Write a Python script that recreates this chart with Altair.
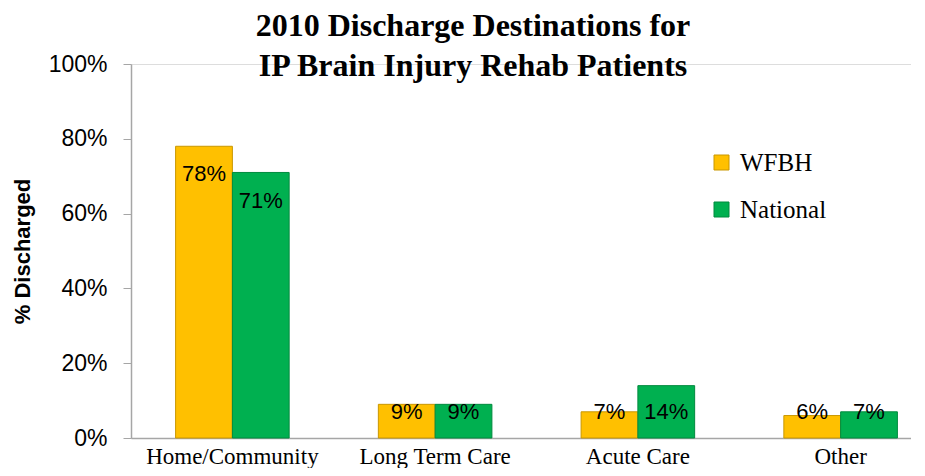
import altair as alt
import pandas as pd

categories = ["Home/Community", "Long Term Care", "Acute Care", "Other"]
series = ["WFBH", "National"]
wfbh = [78, 9, 7, 6]
national = [71, 9, 14, 7]
y_ticks = [0, 20, 40, 60, 80, 100]

rows = []
for c, w, n in zip(categories, wfbh, national):
    rows.append({"cat": c, "series": "WFBH", "v": w})
    rows.append({"cat": c, "series": "National", "v": n})
df = pd.DataFrame(rows)

colors = ["#FFC000", "#00B050"]
strokes = ["#C99700", "#008A3E"]

xscale = alt.Scale(range=[0, 811], paddingInner=0.44, paddingOuter=0.22)
x = alt.X("cat:N", sort=categories, scale=xscale,
          axis=alt.Axis(title=None, labelAngle=0, labelFont="Liberation Serif",
                        labelFontSize=23, labelColor="#000000", ticks=False,
                        labelPadding=7, labelLimit=400, domainColor="#A6A6A6",
                        domainWidth=1.5))
xo = alt.XOffset("series:N", sort=series, scale=alt.Scale(paddingInner=0, paddingOuter=0))
y = alt.Y("v:Q", scale=alt.Scale(domain=[0, 100], nice=False),
          axis=alt.Axis(title="% Discharged", values=y_ticks, labelExpr="datum.value + '%'",
                        labelFont="Liberation Sans", labelFontSize=23, labelColor="#000000",
                        tickSize=8, tickColor="#A6A6A6", domainColor="#A6A6A6", domainWidth=1.5,
                        labelPadding=16, grid=False, titleFont="Liberation Sans",
                        titleFontSize=22, titleFontWeight="bold", titleColor="#000000",
                        titlePadding=14))

bars = alt.Chart(df).mark_bar(strokeWidth=1).encode(
    x=x, xOffset=xo, y=y,
    color=alt.Color("series:N", sort=series,
                    scale=alt.Scale(domain=series, range=colors),
                    legend=alt.Legend(title=None, orient="none", legendX=578, legendY=86,
                                      symbolType="square", symbolSize=225,
                                      symbolStrokeWidth=1, labelFont="Liberation Serif",
                                      labelFontSize=25, labelColor="#000000",
                                      labelOffset=6, rowPadding=21)),
    stroke=alt.Stroke("series:N", sort=series,
                      scale=alt.Scale(domain=series, range=strokes), legend=None),
)

labels = alt.Chart(df).transform_calculate(
    lp="max(datum.v - 7.5, 7)",
    txt="datum.v + '%'"
).mark_text(font="Liberation Sans", fontSize=22, color="#000000", baseline="middle").encode(
    x=alt.X("cat:N", sort=categories, scale=xscale),
    xOffset=xo,
    y=alt.Y("lp:Q"),
    text="txt:N",
)

chart = alt.layer(bars, labels).properties(
    width=780, height=374,
    autosize=alt.AutoSizeParams(type="none"),
    padding={"left": 123, "top": 56, "right": 0, "bottom": 30},
    title=alt.TitleParams(text=["2010 Discharge Destinations for", "IP Brain Injury Rehab Patients"],
                          font="Liberation Serif", fontSize=32, fontWeight="bold",
                          color="#000000", anchor="middle", dx=-48, dy=34, lineHeight=40),
).configure_view(stroke=None).configure(background="#FFFFFF")

chart.save("out.html", embed_options={"renderer": "svg", "actions": False})
